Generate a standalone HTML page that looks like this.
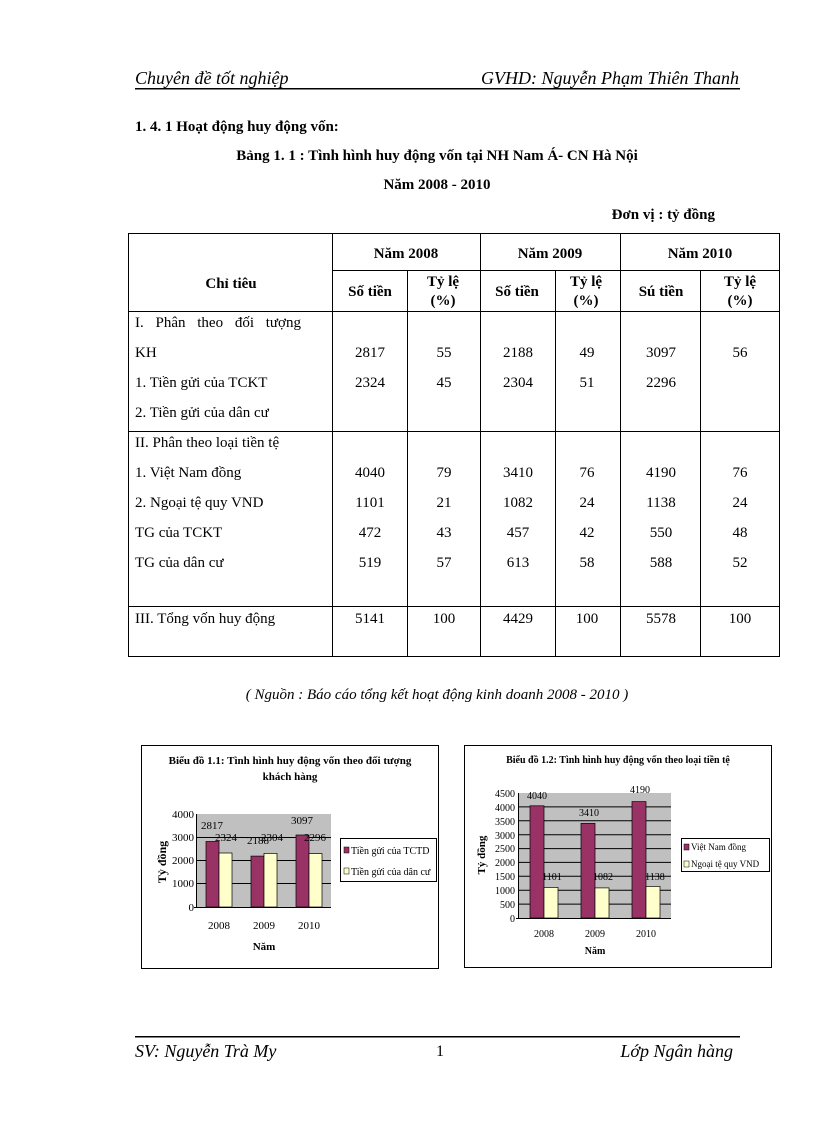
<!DOCTYPE html>
<html><head><meta charset="utf-8"><style>
html,body{margin:0;padding:0;background:#fff}
svg{display:block}
text{font-family:"Liberation Serif",serif;fill:#000}
.c{text-anchor:middle}
.r{text-anchor:end}
</style></head><body>
<svg width="816" height="1123" viewBox="0 0 816 1123" xmlns="http://www.w3.org/2000/svg">
<text x="135" y="84" font-size="18" font-style="italic">Chuyên đề tốt nghiệp</text>
<text x="739" y="84" font-size="18" font-style="italic" class="r">GVHD: Nguyễn Phạm Thiên Thanh</text>
<rect x="135" y="88" width="605" height="1.5" fill="#000"/>
<text x="135" y="131" font-size="15" font-weight="bold">1. 4. 1 Hoạt động huy động vốn:</text>
<text x="437" y="160" font-size="15" font-weight="bold" class="c">Bảng 1. 1 : Tình hình huy động vốn tại NH Nam Á- CN Hà Nội</text>
<text x="437" y="189" font-size="15" font-weight="bold" class="c">Năm 2008 - 2010</text>
<text x="715" y="219" font-size="15" font-weight="bold" class="r">Đơn vị : tỷ đồng</text>

<g stroke="#000" stroke-width="1" fill="none">
<rect x="128.5" y="233.5" width="651" height="423"/>
<line x1="332.5" y1="233" x2="332.5" y2="657"/>
<line x1="407.5" y1="271" x2="407.5" y2="657"/>
<line x1="480.5" y1="233" x2="480.5" y2="657"/>
<line x1="555.5" y1="271" x2="555.5" y2="657"/>
<line x1="620.5" y1="233" x2="620.5" y2="657"/>
<line x1="700.5" y1="271" x2="700.5" y2="657"/>
<line x1="332" y1="270.5" x2="780" y2="270.5"/>
<line x1="128" y1="311.5" x2="780" y2="311.5"/>
<line x1="128" y1="431.5" x2="780" y2="431.5"/>
<line x1="128" y1="606.5" x2="780" y2="606.5"/>
</g>
<g font-size="15">
<text x="406" y="258" class="c" font-weight="bold">Năm 2008</text>
<text x="550" y="258" class="c" font-weight="bold">Năm 2009</text>
<text x="700" y="258" class="c" font-weight="bold">Năm 2010</text>
<text x="231" y="288" class="c" font-weight="bold">Chỉ tiêu</text>
<text x="370" y="296" class="c" font-weight="bold">Số tiền</text>
<text x="443" y="286" class="c" font-weight="bold">Tỷ lệ</text>
<text x="443" y="305" class="c" font-weight="bold">(%)</text>
<text x="517" y="296" class="c" font-weight="bold">Số tiền</text>
<text x="586" y="286" class="c" font-weight="bold">Tỷ lệ</text>
<text x="586" y="305" class="c" font-weight="bold">(%)</text>
<text x="661" y="296" class="c" font-weight="bold">Sú tiền</text>
<text x="740" y="286" class="c" font-weight="bold">Tỷ lệ</text>
<text x="740" y="305" class="c" font-weight="bold">(%)</text>

<text x="135" y="327" word-spacing="8">I. Phân theo đối tượng</text>
<text x="135" y="357">KH</text>
<text x="135" y="387">1. Tiền gửi của TCKT</text>
<text x="135" y="417">2. Tiền gửi của dân cư</text>
<text x="135" y="447">II. Phân theo loại tiền tệ</text>
<text x="135" y="477">1. Việt Nam đồng</text>
<text x="135" y="507">2. Ngoại tệ quy VND</text>
<text x="135" y="537">TG của TCKT</text>
<text x="135" y="567">TG của dân cư</text>
<text x="135" y="623">III. Tổng vốn huy động</text>

<g class="c">
<text x="370" y="357">2817</text><text x="444" y="357">55</text><text x="518" y="357">2188</text><text x="587" y="357">49</text><text x="661" y="357">3097</text><text x="740" y="357">56</text>
<text x="370" y="387">2324</text><text x="444" y="387">45</text><text x="518" y="387">2304</text><text x="587" y="387">51</text><text x="661" y="387">2296</text>
<text x="370" y="477">4040</text><text x="444" y="477">79</text><text x="518" y="477">3410</text><text x="587" y="477">76</text><text x="661" y="477">4190</text><text x="740" y="477">76</text>
<text x="370" y="507">1101</text><text x="444" y="507">21</text><text x="518" y="507">1082</text><text x="587" y="507">24</text><text x="661" y="507">1138</text><text x="740" y="507">24</text>
<text x="370" y="537">472</text><text x="444" y="537">43</text><text x="518" y="537">457</text><text x="587" y="537">42</text><text x="661" y="537">550</text><text x="740" y="537">48</text>
<text x="370" y="567">519</text><text x="444" y="567">57</text><text x="518" y="567">613</text><text x="587" y="567">58</text><text x="661" y="567">588</text><text x="740" y="567">52</text>
<text x="370" y="623">5141</text><text x="444" y="623">100</text><text x="518" y="623">4429</text><text x="587" y="623">100</text><text x="661" y="623">5578</text><text x="740" y="623">100</text>
</g>
</g>
<text x="437" y="699" font-size="15" font-style="italic" class="c">( Nguồn : Báo cáo tổng kết hoạt động kinh doanh 2008 - 2010 )</text>

<rect x="141.5" y="745.5" width="297" height="223" fill="#fff" stroke="#000"/>
<text x="290" y="764" font-size="11" font-weight="bold" class="c">Biểu đồ 1.1: Tình hình huy động vốn theo đối tượng</text>
<text x="290" y="780" font-size="11" font-weight="bold" class="c">khách hàng</text>
<rect x="197" y="814" width="134" height="93" fill="#c0c0c0"/>
<g stroke="#000" stroke-width="1">
<line x1="197" y1="837.5" x2="331" y2="837.5"/>
<line x1="197" y1="860.5" x2="331" y2="860.5"/>
<line x1="197" y1="883.5" x2="331" y2="883.5"/>
<line x1="196.5" y1="814" x2="196.5" y2="908"/>
<line x1="194" y1="907.5" x2="331" y2="907.5"/>
</g>
<g stroke="#000" stroke-width="0.7">
<rect x="206" y="841.5" width="13" height="65.5" fill="#993366"/>
<rect x="219" y="853" width="13" height="54" fill="#ffffcc"/>
<rect x="251" y="856.1" width="13" height="50.9" fill="#993366"/>
<rect x="264" y="853.4" width="13" height="53.6" fill="#ffffcc"/>
<rect x="296" y="835" width="13" height="72" fill="#993366"/>
<rect x="309" y="853.6" width="13" height="53.4" fill="#ffffcc"/>
</g>
<g font-size="11">
<g class="r"><text x="194" y="818">4000</text><text x="194" y="841">3000</text><text x="194" y="864">2000</text><text x="194" y="887">1000</text><text x="194" y="911">0</text></g>
<g class="c"><text x="219" y="929">2008</text><text x="264" y="929">2009</text><text x="309" y="929">2010</text>
<text x="212" y="829">2817</text><text x="226" y="841">2324</text><text x="258" y="844">2188</text><text x="272" y="841">2304</text><text x="302" y="824">3097</text><text x="315" y="841">2296</text>
<text x="264" y="950" font-weight="bold">Năm</text></g>
<text transform="translate(166,862) rotate(-90)" class="c" font-weight="bold" font-size="12">Tỷ đồng</text>
</g>
<rect x="340.5" y="838.5" width="96" height="43" fill="#fff" stroke="#000"/>
<rect x="344" y="847" width="5" height="6" fill="#993366" stroke="#000" stroke-width="0.5"/>
<rect x="344" y="868" width="5" height="6" fill="#ffffcc" stroke="#000" stroke-width="0.5"/>
<text x="351" y="854" font-size="10">Tiền gửi của TCTD</text>
<text x="351" y="875" font-size="10">Tiền gửi của dân cư</text>

<rect x="464.5" y="745.5" width="307" height="222" fill="#fff" stroke="#000"/>
<text x="618" y="763" font-size="10" font-weight="bold" class="c">Biểu đồ 1.2: Tình hình huy động vốn theo loại tiền tệ</text>
<rect x="519" y="793" width="152" height="125" fill="#c0c0c0"/>
<g stroke="#000" stroke-width="1">
<line x1="519" y1="806.9" x2="671" y2="806.9"/><line x1="519" y1="820.8" x2="671" y2="820.8"/>
<line x1="519" y1="834.7" x2="671" y2="834.7"/><line x1="519" y1="848.6" x2="671" y2="848.6"/>
<line x1="519" y1="862.4" x2="671" y2="862.4"/><line x1="519" y1="876.3" x2="671" y2="876.3"/>
<line x1="519" y1="890.2" x2="671" y2="890.2"/><line x1="519" y1="904.1" x2="671" y2="904.1"/>
<line x1="518.5" y1="793" x2="518.5" y2="919"/>
<line x1="516" y1="918.5" x2="671" y2="918.5"/>
</g>
<g stroke="#000" stroke-width="0.7">
<rect x="530" y="805.8" width="14" height="112.2" fill="#993366"/>
<rect x="544" y="887.4" width="14" height="30.6" fill="#ffffcc"/>
<rect x="581" y="823.3" width="14" height="94.7" fill="#993366"/>
<rect x="595" y="887.9" width="14" height="30.1" fill="#ffffcc"/>
<rect x="632" y="801.6" width="14" height="116.4" fill="#993366"/>
<rect x="646" y="886.4" width="14" height="31.6" fill="#ffffcc"/>
</g>
<g font-size="10">
<g class="r"><text x="515" y="797">4500</text><text x="515" y="811">4000</text><text x="515" y="825">3500</text><text x="515" y="839">3000</text><text x="515" y="852">2500</text><text x="515" y="866">2000</text><text x="515" y="880">1500</text><text x="515" y="894">1000</text><text x="515" y="908">500</text><text x="515" y="922">0</text></g>
<g class="c"><text x="544" y="937">2008</text><text x="595" y="937">2009</text><text x="646" y="937">2010</text>
<text x="537" y="799">4040</text><text x="589" y="816">3410</text><text x="640" y="793">4190</text>
<text x="552" y="880">1101</text><text x="603" y="880">1082</text><text x="655" y="880">1138</text>
<text x="595" y="954" font-weight="bold">Năm</text></g>
<text transform="translate(485,855) rotate(-90)" class="c" font-weight="bold" font-size="11">Tỷ đồng</text>
</g>
<rect x="681.5" y="838.5" width="88" height="33" fill="#fff" stroke="#000"/>
<rect x="684" y="844" width="5" height="6" fill="#993366" stroke="#000" stroke-width="0.5"/>
<rect x="684" y="861" width="5" height="6" fill="#ffffcc" stroke="#000" stroke-width="0.5"/>
<text x="691" y="850" font-size="9">Việt Nam đồng</text>
<text x="691" y="867" font-size="9">Ngoại tệ quy VND</text>

<rect x="135" y="1036" width="605" height="1.5" fill="#000"/>
<text x="135" y="1057" font-size="18" font-style="italic">SV: Nguyễn Trà My</text>
<text x="440" y="1056" font-size="16" class="c">1</text>
<text x="733" y="1057" font-size="18" font-style="italic" class="r">Lớp Ngân hàng</text>
</svg>
</body></html>
